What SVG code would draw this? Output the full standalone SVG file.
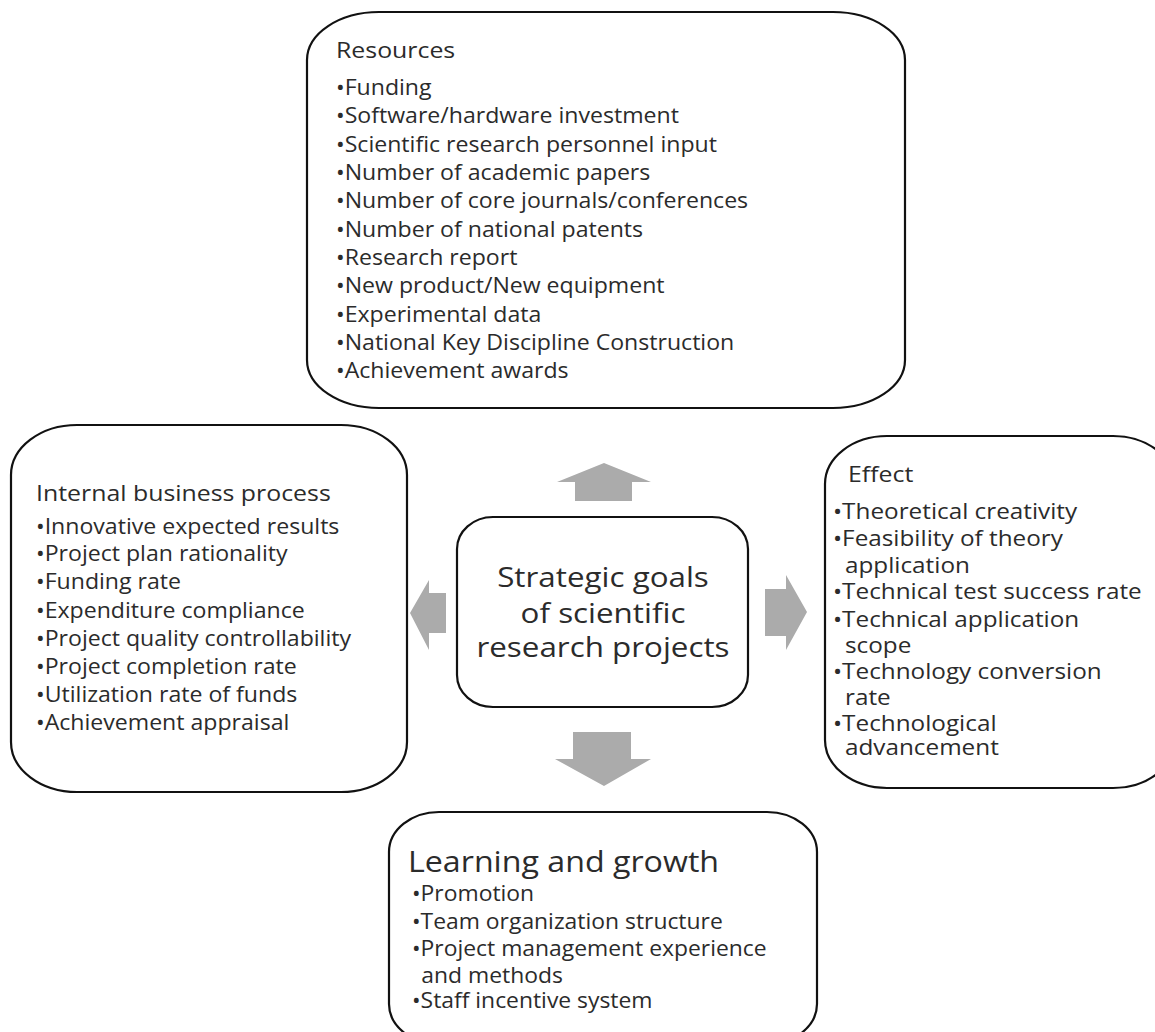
<svg xmlns="http://www.w3.org/2000/svg" width="1155" height="1032" viewBox="0 0 1155 1032">
<style>
.box{fill:#fff;stroke:#111;stroke-width:2.2}
.arr{fill:#ababab;stroke:none}
text{font-family:"Open Sans","Noto Sans","Liberation Sans",sans-serif;fill:#2b2b2b}
.t{font-size:22px}
.l{font-size:21px}
.e{font-size:21.5px}
.g{font-size:22px}
.gt{font-size:29px}
.c{font-size:28px;text-anchor:middle}
</style>
<rect width="1155" height="1032" fill="#fff"/>
<g id="resources">
<rect class="box" x="307" y="12" width="598" height="396" rx="72" ry="48"/>
<text class="t" x="336" y="58" transform="matrix(1.13,0,0,1,-43.68,0)">Resources</text>
<g transform="matrix(1.1,0,0,1,-33.6,0)">
<text class="l" x="336" y="95">•Funding</text>
<text class="l" x="336" y="123">•Software/hardware investment</text>
<text class="l" x="336" y="152">•Scientific research personnel input</text>
<text class="l" x="336" y="180">•Number of academic papers</text>
<text class="l" x="336" y="208">•Number of core journals/conferences</text>
<text class="l" x="336" y="237">•Number of national patents</text>
<text class="l" x="336" y="265">•Research report</text>
<text class="l" x="336" y="293">•New product/New equipment</text>
<text class="l" x="336" y="322">•Experimental data</text>
<text class="l" x="336" y="350">•National Key Discipline Construction</text>
<text class="l" x="336" y="378">•Achievement awards</text>
</g>
</g>
<g id="internal">
<rect class="box" x="11" y="425" width="396" height="367" rx="66" ry="50"/>
<text class="t" x="36" y="501" transform="matrix(1.13,0,0,1,-4.68,0)">Internal business process</text>
<g transform="matrix(1.1,0,0,1,-3.6,0)">
<text class="l" x="36" y="534">•Innovative expected results</text>
<text class="l" x="36" y="561">•Project plan rationality</text>
<text class="l" x="36" y="589">•Funding rate</text>
<text class="l" x="36" y="618">•Expenditure compliance</text>
<text class="l" x="36" y="646">•Project quality controllability</text>
<text class="l" x="36" y="674">•Project completion rate</text>
<text class="l" x="36" y="702">•Utilization rate of funds</text>
<text class="l" x="36" y="730">•Achievement appraisal</text>
</g>
</g>
<g id="effect">
<rect class="box" x="825" y="436" width="350" height="352" rx="62" ry="48"/>
<text class="t" x="848" y="482" transform="matrix(1.13,0,0,1,-110.24,0)">Effect</text>
<g transform="matrix(1.13,0,0,1,-108.29,0)">
<text class="e" x="833" y="519">•Theoretical creativity</text>
<text class="e" x="833" y="546">•Feasibility of theory</text>
<text class="e" x="843.6" y="573">application</text>
<text class="e" x="833" y="599">•Technical test success rate</text>
<text class="e" x="833" y="627">•Technical application</text>
<text class="e" x="843.6" y="653">scope</text>
<text class="e" x="833" y="679">•Technology conversion</text>
<text class="e" x="843.6" y="705">rate</text>
<text class="e" x="833" y="731">•Technological</text>
<text class="e" x="843.6" y="755">advancement</text>
</g>
</g>
<g id="center">
<rect class="box" x="457" y="517" width="291" height="190" rx="36" ry="32"/>
<g transform="matrix(1.12,0,0,1,-72.36,0)">
<text class="c" x="603" y="587">Strategic goals</text>
<text class="c" x="603" y="623">of scientific</text>
<text class="c" x="603" y="657">research projects</text>
</g>
</g>
<g id="learning">
<rect class="box" x="389" y="812" width="428" height="232" rx="50" ry="40"/>
<text class="gt" x="408" y="872" transform="matrix(1.11,0,0,1,-44.88,0)">Learning and growth</text>
<g transform="matrix(1.04,0,0,1,-16.48,0)">
<text class="g" x="412" y="901">•Promotion</text>
<text class="g" x="412" y="929">•Team organization structure</text>
<text class="g" x="412" y="956">•Project management experience</text>
<text class="g" x="421" y="983">and methods</text>
<text class="g" x="412" y="1008">•Staff incentive system</text>
</g>
</g>
<g id="connectors">
<polygon class="arr" points="604,463 651,482 632,482 632,501 575,501 575,482 557,482"/>
<polygon class="arr" points="604,786 651,759 631,759 631,732 573,732 573,759 555,759"/>
<polygon class="arr" points="410,613 429,580 429,593 446,593 446,633 429,633 429,650"/>
<polygon class="arr" points="807,612 786,575 786,589 765,589 765,636 786,636 786,650"/>
</g>
</svg>
